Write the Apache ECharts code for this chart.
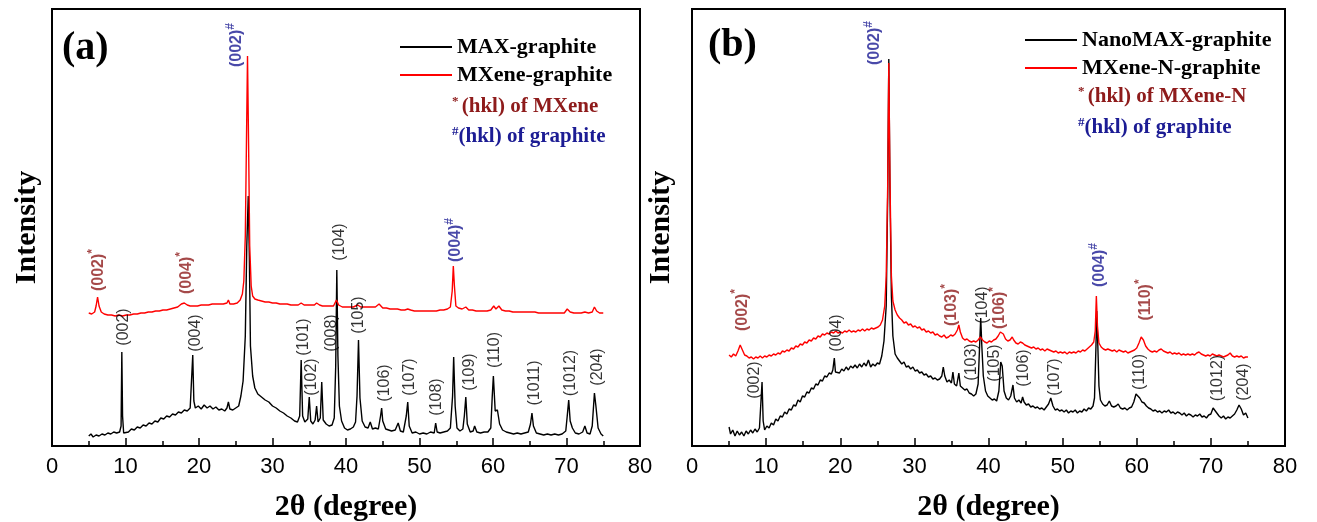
<!DOCTYPE html>
<html>
<head>
<meta charset="utf-8">
<script src="https://cdn.jsdelivr.net/npm/echarts@6/dist/echarts.min.js"></script>
<style>
  html, body { margin: 0; padding: 0; background: #fff; }
  #chart { width: 1317px; height: 522px; }
</style>
</head>
<body>
<div id="chart"></div>
<script>
// (a) MAX-graphite, [2theta, intensity]
var maxGraphite = [
  [5.0,10],[5.3,12],[5.6,9],[6.0,11],[6.4,10],[6.8,12],[7.2,11],[7.6,13],[8.0,12],[8.4,14],[8.8,13],[9.2,14],[9.4,20],[9.5,94],[9.6,30],[9.75,13],
  [10.0,15],[10.4,14],[10.8,17],[11.2,16],[11.6,19],[12.0,18],[12.4,21],[12.8,20],[13.2,23],[13.6,22],[14.0,25],[14.4,24],[14.8,28],[15.2,27],
  [15.6,30],[16.0,29],[16.4,32],[16.8,31],[17.2,34],[17.6,33],[18.0,36],[18.4,35],[18.8,38],[19.0,40],[19.15,91],[19.3,45],[19.5,38],[19.9,40],
  [20.3,37],[20.7,41],[21.1,38],[21.5,40],[21.9,37],[22.3,39],[22.7,36],[23.1,37],[23.5,35],[23.8,38],[24.0,44],[24.2,37],[24.6,36],[25.0,38],
  [25.4,40],[25.7,50],[26.0,65],[26.3,110],[26.5,200],[26.7,250],[26.85,190],[27.0,100],[27.3,70],[27.6,58],[28.0,52],[28.5,49],[29.0,46],
  [29.5,44],[30.0,40],[30.5,38],[31.0,35],[31.5,33],[32.0,30],[32.5,28],[33.0,25],[33.4,24],[33.7,30],[33.9,86],[34.1,30],[34.4,24],[34.8,27],
  [35.0,49],[35.2,25],[35.5,22],[35.8,26],[36.0,40],[36.2,24],[36.5,28],[36.7,64],[36.9,26],[37.3,22],[37.7,20],[38.1,21],[38.4,28],[38.6,80],
  [38.75,176],[38.9,90],[39.1,40],[39.4,25],[39.8,18],[40.2,16],[40.6,17],[41.0,19],[41.3,24],[41.5,50],[41.7,106],[41.9,48],[42.2,25],[42.6,19],
  [43.0,18],[43.3,24],[43.6,17],[44.0,18],[44.4,17],[44.7,30],[44.85,38],[45.0,25],[45.4,17],[45.8,16],[46.2,15],[46.7,16],[47.1,23],[47.4,15],
  [47.8,14],[48.2,30],[48.4,44],[48.6,20],[49.0,13],[49.5,14],[50.0,12],[50.5,13],[51.0,12],[51.5,14],[52.0,13],[52.2,23],[52.4,14],[52.8,13],
  [53.3,14],[53.8,15],[54.2,18],[54.5,50],[54.65,89],[54.85,40],[55.1,18],[55.5,15],[55.9,17],[56.1,30],[56.3,49],[56.5,22],[56.9,14],[57.3,15],
  [57.5,20],[57.8,14],[58.3,13],[58.8,14],[59.3,14],[59.7,18],[59.9,50],[60.05,70],[60.3,35],[60.6,36],[60.9,22],[61.3,16],[61.8,14],[62.3,13],
  [62.8,12],[63.3,13],[63.8,12],[64.3,13],[64.8,14],[65.1,22],[65.3,33],[65.5,20],[65.9,13],[66.4,12],[66.9,11],[67.4,12],[67.9,11],[68.4,12],
  [68.9,11],[69.4,12],[69.9,15],[70.1,30],[70.3,46],[70.5,25],[70.8,18],[71.2,13],[71.7,12],[72.2,14],[72.5,20],[72.8,13],[73.2,12],[73.5,20],
  [73.8,53],[74.0,40],[74.3,18],[74.7,12],[75.0,10]
];

// (a) MXene-graphite
var mxeneGraphite = [
  [5.0,133],[5.4,132],[5.8,134],[6.0,140],[6.2,149],[6.4,140],[6.7,134],[7.1,132],[7.6,131],[8.1,131],[8.6,130],[9.1,131],[9.6,130],[10.1,131],
  [10.6,131],[11.1,132],[11.6,132],[12.1,133],[12.6,133],[13.1,134],[13.6,134],[14.1,135],[14.6,135],[15.1,136],[15.6,136],[16.1,137],[16.6,138],
  [17.1,139],[17.6,142],[18.0,143],[18.4,141],[18.8,140],[19.3,140],[19.8,140],[20.3,141],[20.8,141],[21.3,141],[21.8,142],[22.3,142],[22.8,142],
  [23.3,142],[23.8,143],[24.0,146],[24.2,142],[24.7,142],[25.2,143],[25.6,146],[25.9,152],[26.1,165],[26.3,210],[26.45,300],[26.6,390],[26.75,300],
  [26.9,200],[27.1,160],[27.3,150],[27.6,147],[28.0,146],[28.5,145],[29.0,144],[29.5,144],[30.0,143],[30.5,143],[31.0,142],[31.5,142],[32.0,142],
  [32.5,141],[33.0,141],[33.5,141],[33.9,143],[34.3,141],[34.8,141],[35.2,141],[35.7,141],[36.0,143],[36.4,141],[36.8,140],[37.3,140],[37.8,140],
  [38.3,140],[38.7,146],[39.0,141],[39.5,139],[40.0,139],[40.5,139],[41.0,139],[41.6,141],[42.0,139],[42.5,139],[43.0,139],[43.5,139],[44.0,139],
  [44.5,142],[45.0,138],[45.5,138],[46.0,137],[46.5,137],[47.0,137],[47.5,136],[48.0,136],[48.4,137],[48.8,136],[49.3,135],[49.8,135],[50.3,135],
  [50.8,135],[51.3,135],[51.8,135],[52.3,135],[52.8,136],[53.3,136],[53.8,137],[54.2,139],[54.45,155],[54.6,180],[54.75,160],[54.95,140],
  [55.3,138],[55.8,137],[56.3,139],[56.7,136],[57.2,136],[57.7,135],[58.2,135],[58.7,135],[59.2,135],[59.7,136],[60.1,140],[60.4,137],[60.8,140],
  [61.2,136],[61.7,135],[62.2,135],[62.7,134],[63.2,134],[63.7,134],[64.2,134],[64.7,134],[65.2,134],[65.7,134],[66.2,133],[66.7,133],[67.2,133],
  [67.7,133],[68.2,133],[68.7,133],[69.2,133],[69.7,133],[70.1,137],[70.5,134],[71.0,133],[71.5,133],[72.0,133],[72.5,134],[73.0,133],[73.5,134],
  [73.8,139],[74.1,135],[74.5,133],[75.0,133]
];

// (b) NanoMAX-graphite
var nanoMaxGraphite = [
  [5.0,19],[5.2,12],[5.5,16],[5.8,10],[6.1,15],[6.4,11],[6.7,14],[7.0,10],[7.3,15],[7.6,12],[7.9,16],[8.2,13],[8.5,17],[8.8,14],[9.1,18],[9.3,20],
  [9.45,64],[9.6,25],[9.8,16],[10.1,20],[10.4,18],[10.7,23],[11.0,21],[11.3,27],[11.6,25],[11.9,30],[12.2,29],[12.5,34],[12.8,32],[13.1,37],
  [13.4,36],[13.7,41],[14.0,40],[14.3,46],[14.6,44],[14.9,50],[15.2,49],[15.5,54],[15.8,53],[16.1,58],[16.4,57],[16.7,62],[17.0,61],[17.3,66],
  [17.6,65],[17.9,70],[18.2,69],[18.5,73],[18.8,72],[19.0,76],[19.2,88],[19.35,74],[19.6,76],[19.9,73],[20.2,77],[20.5,75],[20.8,79],[21.1,76],
  [21.4,80],[21.7,78],[22.0,81],[22.3,78],[22.6,82],[22.9,79],[23.2,83],[23.5,80],[23.8,86],[24.1,79],[24.4,82],[24.7,80],[25.0,83],[25.3,82],
  [25.6,90],[25.9,105],[26.2,140],[26.4,250],[26.55,387],[26.7,260],[26.9,150],[27.1,110],[27.4,92],[27.7,88],[28.0,85],[28.3,82],[28.6,84],
  [28.9,79],[29.2,80],[29.5,77],[29.8,79],[30.1,75],[30.4,76],[30.7,73],[31.0,74],[31.3,71],[31.6,72],[31.9,69],[32.2,70],[32.5,67],[32.8,68],
  [33.1,66],[33.4,67],[33.7,70],[33.9,79],[34.1,70],[34.4,64],[34.7,66],[35.0,63],[35.2,74],[35.4,62],[35.7,60],[36.0,73],[36.2,60],[36.5,58],
  [36.8,56],[37.1,57],[37.4,53],[37.7,52],[38.0,50],[38.3,52],[38.6,62],[38.8,100],[38.95,128],[39.1,100],[39.3,70],[39.6,55],[39.9,50],[40.2,48],
  [40.5,46],[40.8,47],[41.1,45],[41.4,55],[41.65,84],[41.85,80],[42.1,55],[42.4,48],[42.7,46],[43.0,50],[43.3,61],[43.5,48],[43.8,44],[44.1,46],
  [44.4,43],[44.6,49],[44.8,44],[45.1,41],[45.4,42],[45.7,39],[46.0,40],[46.3,38],[46.6,39],[46.9,37],[47.2,38],[47.5,36],[47.8,39],[48.1,42],
  [48.4,48],[48.7,40],[49.0,36],[49.3,37],[49.6,35],[49.9,36],[50.2,34],[50.5,36],[50.8,33],[51.1,35],[51.4,34],[51.7,36],[52.0,33],[52.3,35],
  [52.6,34],[52.9,37],[53.2,35],[53.5,38],[53.8,37],[54.1,40],[54.3,48],[54.5,100],[54.6,135],[54.75,100],[54.9,60],[55.1,46],[55.4,42],[55.7,40],
  [56.0,41],[56.3,45],[56.6,40],[56.9,39],[57.2,40],[57.5,42],[57.8,38],[58.1,37],[58.4,38],[58.7,36],[59.0,38],[59.3,39],[59.6,44],[59.9,52],
  [60.1,54],[60.4,48],[60.7,44],[61.0,43],[61.3,40],[61.6,38],[61.9,37],[62.2,35],[62.5,36],[62.8,34],[63.1,35],[63.4,33],[63.7,35],[64.0,34],
  [64.3,36],[64.6,33],[64.9,34],[65.2,32],[65.5,34],[65.8,33],[66.1,31],[66.4,33],[66.7,30],[67.0,32],[67.3,31],[67.6,29],[67.9,31],[68.2,30],
  [68.5,32],[68.8,29],[69.1,30],[69.4,28],[69.7,31],[70.0,32],[70.3,38],[70.5,40],[70.8,33],[71.1,30],[71.4,28],[71.7,30],[72.0,27],[72.3,29],
  [72.6,28],[72.9,30],[73.2,32],[73.5,36],[73.8,41],[74.1,37],[74.4,31],[74.7,33],[75.0,28]
];

// (b) MXene-N-graphite
var mxeneNGraphite = [
  [5.0,91],[5.3,89],[5.6,92],[5.9,90],[6.2,95],[6.5,101],[6.8,96],[7.1,91],[7.4,90],[7.7,88],[8.0,89],[8.3,87],[8.6,89],[8.9,88],[9.2,90],[9.5,88],
  [9.8,90],[10.1,89],[10.4,91],[10.7,90],[11.0,92],[11.3,91],[11.6,93],[11.9,92],[12.2,95],[12.5,94],[12.8,96],[13.1,95],[13.4,98],[13.7,97],
  [14.0,100],[14.3,99],[14.6,102],[14.9,101],[15.2,104],[15.5,103],[15.8,106],[16.1,105],[16.4,108],[16.7,107],[17.0,110],[17.3,109],[17.6,112],
  [17.9,111],[18.2,113],[18.5,112],[18.8,114],[19.1,113],[19.4,115],[19.7,113],[20.0,114],[20.3,113],[20.6,115],[20.9,114],[21.2,116],[21.5,114],
  [21.8,115],[22.1,114],[22.4,116],[22.7,115],[23.0,117],[23.3,115],[23.6,117],[23.9,116],[24.2,118],[24.5,117],[24.8,118],[25.1,119],[25.4,121],
  [25.7,126],[26.0,140],[26.2,170],[26.4,260],[26.55,383],[26.7,270],[26.9,170],[27.1,145],[27.4,136],[27.7,131],[28.0,128],[28.3,126],[28.6,123],
  [28.9,124],[29.2,121],[29.5,122],[29.8,119],[30.1,120],[30.4,118],[30.7,119],[31.0,116],[31.3,117],[31.6,114],[31.9,115],[32.2,113],[32.5,114],
  [32.8,111],[33.1,112],[33.4,110],[33.7,109],[34.0,111],[34.3,108],[34.6,109],[34.9,111],[35.2,110],[35.5,112],[35.8,116],[36.0,121],[36.2,114],
  [36.5,108],[36.8,106],[37.1,107],[37.4,105],[37.7,104],[38.0,105],[38.3,104],[38.6,106],[38.9,109],[39.2,106],[39.5,104],[39.8,103],[40.1,105],
  [40.4,104],[40.7,106],[41.0,107],[41.3,110],[41.6,114],[41.8,116],[42.0,112],[42.3,107],[42.6,105],[42.9,106],[43.2,109],[43.4,106],[43.7,103],
  [44.0,102],[44.3,104],[44.6,103],[44.9,101],[45.2,100],[45.5,99],[45.8,98],[46.1,99],[46.4,97],[46.7,98],[47.0,96],[47.3,97],[47.6,95],[47.9,97],
  [48.2,96],[48.5,95],[48.8,94],[49.1,95],[49.4,93],[49.7,94],[50.0,93],[50.3,94],[50.6,92],[50.9,94],[51.2,93],[51.5,94],[51.8,93],[52.1,95],
  [52.4,94],[52.7,96],[53.0,95],[53.3,97],[53.6,99],[53.9,101],[54.2,104],[54.4,115],[54.55,150],[54.7,120],[54.9,103],[55.2,99],[55.5,97],
  [55.8,96],[56.1,97],[56.4,96],[56.7,95],[57.0,96],[57.3,94],[57.6,96],[57.9,95],[58.2,94],[58.5,95],[58.8,93],[59.1,94],[59.4,95],[59.7,96],
  [60.0,98],[60.3,103],[60.6,109],[60.9,106],[61.2,100],[61.5,97],[61.8,95],[62.1,94],[62.4,95],[62.7,94],[63.0,96],[63.3,97],[63.6,95],[63.9,94],
  [64.2,93],[64.5,94],[64.8,92],[65.1,93],[65.4,92],[65.7,93],[66.0,91],[66.3,92],[66.6,91],[66.9,92],[67.2,91],[67.5,92],[67.8,91],[68.1,93],
  [68.4,94],[68.7,92],[69.0,91],[69.3,90],[69.6,91],[69.9,90],[70.2,92],[70.5,91],[70.8,90],[71.1,91],[71.4,90],[71.7,89],[72.0,90],[72.3,91],
  [72.6,93],[72.9,90],[73.2,89],[73.5,90],[73.8,89],[74.1,90],[74.4,88],[74.7,89],[75.0,89]
];

// peak labels: [2theta, intensity at label centre, text]
var maxLabelsA = [
  [9.5,119,'(002)'],[19.2,113,'(004)'],[33.9,109,'(101)'],[35.0,69,'(102)'],[37.7,113,'(008)'],[38.8,204,'(104)'],
  [41.5,131,'(105)'],[45.0,63,'(106)'],[48.4,69,'(107)'],[52.1,49,'(108)'],[56.5,74,'(109)'],[60.0,96,'(110)'],
  [65.4,63,'(1011)'],[70.3,73,'(1012)'],[73.9,79,'(204)']
];
var mxeneLabelsA = [[6.1,176,'(002)'],[18.1,173,'(004)']];
var graphiteLabelsA = [[24.8,401,'(002)'],[54.6,206,'(004)']];

var maxLabelsB = [
  [8.2,66,'(002)'],[19.3,113,'(004)'],[37.4,84,'(103)'],[38.9,141,'(104)'],[40.6,83,'(105)'],[44.5,78,'(106)'],
  [48.6,69,'(107)'],[60.1,74,'(110)'],[70.6,68,'(1012)'],[74.2,64,'(204)']
];
var mxeneLabelsB = [[6.5,136,'(002)'],[34.8,141,'(103)'],[41.2,138,'(106)'],[60.9,146,'(110)']];
var graphiteLabelsB = [[24.4,403,'(002)'],[54.7,181,'(004)']];

var xTicks = { min: 0, max: 80, interval: 10 };

var SERIF = '"Liberation Serif", "Times New Roman", serif';
var SANS = '"Liberation Sans", Arial, sans-serif';
var DARKRED = '#8e1b1b';
var BLUE = '#1c1c94';

var labelRich = {
  k: { fontFamily: SANS, fontSize: 16, color: '#000', lineHeight: 20, verticalAlign: 'bottom' },
  r: { fontFamily: SANS, fontSize: 16, fontWeight: 'bold', color: DARKRED, lineHeight: 20, verticalAlign: 'bottom' },
  rs: { fontFamily: SANS, fontSize: 12, fontWeight: 'bold', color: DARKRED, lineHeight: 12, verticalAlign: 'top' },
  b: { fontFamily: SANS, fontSize: 16, fontWeight: 'bold', color: BLUE, lineHeight: 20, verticalAlign: 'bottom' },
  bs: { fontFamily: SANS, fontSize: 12, fontWeight: 'bold', color: BLUE, lineHeight: 12, verticalAlign: 'top' }
};

function labelSeries(list, kind, idx) {
  return {
    type: 'scatter',
    xAxisIndex: idx,
    yAxisIndex: idx,
    symbolSize: 0,
    silent: true,
    z: 5,
    data: list.map(function (d) {
      var txt = kind === 'k' ? '{k|' + d[2] + '}'
        : kind === 'r' ? '{r|' + d[2] + '}{rs|*}'
        : '{b|' + d[2] + '}{bs|#}';
      return { value: [d[0], d[1]], label: { formatter: txt } };
    }),
    label: { show: true, position: 'inside', rotate: 90, rich: labelRich }
  };
}

function mkX(i) {
  return {
    type: 'value',
    gridIndex: i,
    min: xTicks.min,
    max: xTicks.max,
    interval: xTicks.interval,
    axisLine: { lineStyle: { color: '#000', width: 2 } },
    axisTick: { inside: true, length: 8, lineStyle: { color: '#000', width: 1.5 } },
    minorTick: { show: true, splitNumber: 2, length: 5, lineStyle: { color: '#000', width: 1.5 } },
    axisLabel: { fontFamily: SANS, fontSize: 22, color: '#000', margin: 10 },
    splitLine: { show: false },
    name: '2θ (degree)',
    nameLocation: 'middle',
    nameGap: 46,
    nameTextStyle: { fontFamily: SERIF, fontWeight: 'bold', fontSize: 30, color: '#000' }
  };
}

function mkY(i, gap) {
  return {
    type: 'value',
    gridIndex: i,
    min: 0,
    max: 437,
    axisLine: { show: false },
    axisTick: { show: false },
    axisLabel: { show: false },
    splitLine: { show: false },
    name: 'Intensity',
    nameLocation: 'middle',
    nameGap: gap,
    nameTextStyle: { fontFamily: SERIF, fontWeight: 'bold', fontSize: 30, color: '#000' }
  };
}

function lineSeries(name, data, color, idx) {
  return {
    name: name,
    type: 'line',
    xAxisIndex: idx,
    yAxisIndex: idx,
    data: data,
    symbol: 'none',
    lineStyle: { color: color, width: 1.4 },
    itemStyle: { color: color }
  };
}

function mkLegend(names, left, top) {
  return {
    data: names,
    orient: 'vertical',
    left: left,
    top: top,
    icon: 'rect',
    itemWidth: 52,
    itemHeight: 2,
    itemGap: 6,
    selectedMode: false,
    textStyle: { fontFamily: SERIF, fontWeight: 'bold', fontSize: 22, color: '#000', lineHeight: 22 }
  };
}

function keyText(left, top, mark, text, color) {
  return {
    type: 'text',
    left: left,
    top: top,
    style: {
      text: '{m|' + mark + '}{t|' + text + '}',
      rich: {
        m: { font: 'bold 13px ' + SERIF, fill: color, lineHeight: 22, verticalAlign: 'top' },
        t: { font: 'bold 21px ' + SERIF, fill: color, lineHeight: 22, verticalAlign: 'bottom' }
      }
    }
  };
}

var chart = echarts.init(document.getElementById('chart'));
var option = {
  backgroundColor: '#fff',
  animation: false,
  grid: [
    { left: 52, right: 677, top: 9, bottom: 76, show: true, borderColor: '#000', borderWidth: 2, outerBoundsMode: 'none', containLabel: false },
    { left: 692, right: 32, top: 9, bottom: 76, show: true, borderColor: '#000', borderWidth: 2, outerBoundsMode: 'none', containLabel: false }
  ],
  xAxis: [mkX(0), mkX(1)],
  yAxis: [mkY(0, 10), mkY(1, 16)],
  legend: [
    mkLegend(['MAX-graphite', 'MXene-graphite'], 395, 31),
    mkLegend(['NanoMAX-graphite', 'MXene-N-graphite'], 1020, 24)
  ],
  graphic: [
    { type: 'text', left: 62, top: 29, style: { text: '(a)', font: 'bold 40px ' + SERIF, fill: '#000' } },
    { type: 'text', left: 708, top: 26, style: { text: '(b)', font: 'bold 40px ' + SERIF, fill: '#000' } },
    keyText(452, 95, '* ', '(hkl) of MXene', DARKRED),
    keyText(452, 125, '#', '(hkl) of graphite', BLUE),
    keyText(1078, 85, '* ', '(hkl) of MXene-N', DARKRED),
    keyText(1078, 116, '#', '(hkl) of graphite', BLUE)
  ],
  series: [
    lineSeries('MAX-graphite', maxGraphite, '#000', 0),
    lineSeries('MXene-graphite', mxeneGraphite, '#ff0000', 0),
    lineSeries('NanoMAX-graphite', nanoMaxGraphite, '#000', 1),
    lineSeries('MXene-N-graphite', mxeneNGraphite, '#ff0000', 1),
    labelSeries(maxLabelsA, 'k', 0),
    labelSeries(mxeneLabelsA, 'r', 0),
    labelSeries(graphiteLabelsA, 'b', 0),
    labelSeries(maxLabelsB, 'k', 1),
    labelSeries(mxeneLabelsB, 'r', 1),
    labelSeries(graphiteLabelsB, 'b', 1)
  ]
};
chart.setOption(option);
</script>
</body>
</html>
